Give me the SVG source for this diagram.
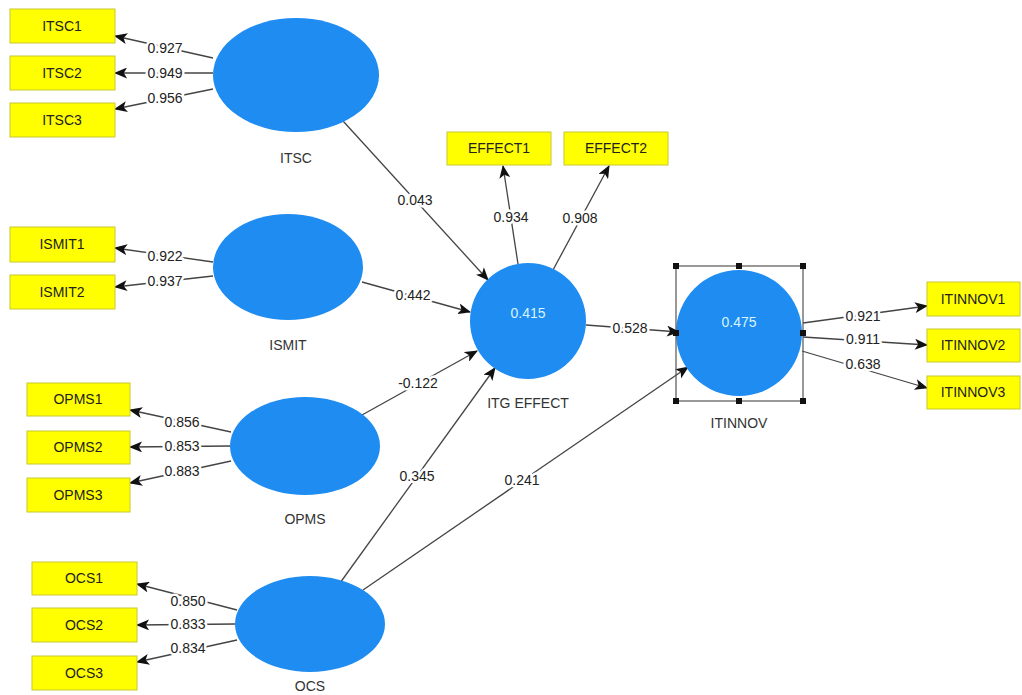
<svg xmlns="http://www.w3.org/2000/svg" width="1022" height="695" viewBox="0 0 1022 695">
<style>
.box{fill:#ffff00;stroke:#c8c832;stroke-width:1}
.bt{font-family:"Liberation Sans",Arial,sans-serif;font-size:14px;fill:#222;text-anchor:middle;dominant-baseline:central}
.lv{fill:#1e8cf0}
.nl{font-family:"Liberation Sans",Arial,sans-serif;font-size:14px;fill:#333;text-anchor:middle;dominant-baseline:central}
.in{font-family:"Liberation Sans",Arial,sans-serif;font-size:14px;fill:#d8f4ff;text-anchor:middle;dominant-baseline:central}
.c{stroke:#444;stroke-width:1.3;fill:none;marker-end:url(#ah)}
.el{font-family:"Liberation Sans",Arial,sans-serif;font-size:14px;fill:#222;text-anchor:middle;dominant-baseline:central;stroke:#fff;stroke-width:5;paint-order:stroke;stroke-linejoin:round}
.sel{fill:none;stroke:#555;stroke-width:1.2}
.h{fill:#111}
</style>
<defs>
<marker id="ah" viewBox="0 0 12 10" refX="11" refY="5" markerWidth="14" markerHeight="11" markerUnits="userSpaceOnUse" orient="auto">
<path d="M0,0 L12,5 L0,10 L3,5 Z" fill="#111"/>
</marker>
</defs>
<rect width="1022" height="695" fill="#fff"/>

<g id="connectors">
<line class="c" x1="213" y1="58" x2="115" y2="36"/>
<line class="c" x1="213" y1="73" x2="115" y2="73"/>
<line class="c" x1="213" y1="89" x2="115" y2="109"/>
<line class="c" x1="213" y1="262" x2="115" y2="248"/>
<line class="c" x1="213" y1="276" x2="115" y2="287"/>
<line class="c" x1="231" y1="432" x2="130" y2="410"/>
<line class="c" x1="230" y1="446" x2="130" y2="447"/>
<line class="c" x1="231" y1="461" x2="130" y2="483"/>
<line class="c" x1="237" y1="610" x2="137" y2="584"/>
<line class="c" x1="235" y1="624" x2="137" y2="625"/>
<line class="c" x1="237" y1="640" x2="137" y2="662"/>
<line class="c" x1="343" y1="121" x2="488" y2="280"/>
<line class="c" x1="362" y1="282" x2="470" y2="312"/>
<line class="c" x1="362" y1="415" x2="477" y2="351"/>
<line class="c" x1="340" y1="583" x2="495" y2="368"/>
<line class="c" x1="363" y1="590" x2="688" y2="367"/>
<line class="c" x1="518" y1="264" x2="503" y2="166"/>
<line class="c" x1="553" y1="270" x2="609" y2="166"/>
<line class="c" x1="586" y1="325" x2="679" y2="332"/>
<line class="c" x1="803" y1="323" x2="927" y2="306"/>
<line class="c" x1="803" y1="337" x2="927" y2="345"/>
<line class="c" x1="802" y1="351" x2="927" y2="388"/>
<text class="el" x="165" y="48">0.927</text>
<text class="el" x="165" y="73">0.949</text>
<text class="el" x="165" y="98">0.956</text>
<text class="el" x="165" y="256">0.922</text>
<text class="el" x="165" y="281">0.937</text>
<text class="el" x="182" y="422">0.856</text>
<text class="el" x="182" y="446">0.853</text>
<text class="el" x="182" y="471">0.883</text>
<text class="el" x="188" y="601">0.850</text>
<text class="el" x="188" y="624">0.833</text>
<text class="el" x="188" y="648">0.834</text>
<text class="el" x="415" y="200">0.043</text>
<text class="el" x="413" y="295">0.442</text>
<text class="el" x="418" y="383">-0.122</text>
<text class="el" x="417" y="476">0.345</text>
<text class="el" x="522" y="480">0.241</text>
<text class="el" x="511" y="217">0.934</text>
<text class="el" x="580" y="218">0.908</text>
<text class="el" x="630" y="328">0.528</text>
<text class="el" x="863" y="316">0.921</text>
<text class="el" x="863" y="339">0.911</text>
<text class="el" x="863" y="364">0.638</text>
</g>

<g id="ITSC1"><rect class="box" x="10" y="9" width="105" height="34"/><text class="bt" x="62" y="26">ITSC1</text></g>
<g id="ITSC2"><rect class="box" x="10" y="56" width="105" height="34"/><text class="bt" x="62" y="73">ITSC2</text></g>
<g id="ITSC3"><rect class="box" x="10" y="103" width="105" height="34"/><text class="bt" x="62" y="120">ITSC3</text></g>
<g id="ITSC"><ellipse class="lv" cx="296" cy="75" rx="83" ry="57"/><text class="nl" x="296" y="158">ITSC</text></g>

<g id="ISMIT1"><rect class="box" x="10" y="227" width="105" height="35"/><text class="bt" x="62" y="244">ISMIT1</text></g>
<g id="ISMIT2"><rect class="box" x="10" y="275" width="105" height="34"/><text class="bt" x="62" y="292">ISMIT2</text></g>
<g id="ISMIT"><ellipse class="lv" cx="288" cy="267" rx="75" ry="53"/><text class="nl" x="288" y="345">ISMIT</text></g>

<g id="OPMS1"><rect class="box" x="27" y="383" width="103" height="33"/><text class="bt" x="78" y="399">OPMS1</text></g>
<g id="OPMS2"><rect class="box" x="27" y="431" width="103" height="33"/><text class="bt" x="78" y="447">OPMS2</text></g>
<g id="OPMS3"><rect class="box" x="27" y="478" width="103" height="34"/><text class="bt" x="78" y="495">OPMS3</text></g>
<g id="OPMS"><ellipse class="lv" cx="305" cy="446" rx="75" ry="49"/><text class="nl" x="305" y="519">OPMS</text></g>

<g id="OCS1"><rect class="box" x="32" y="562" width="105" height="33"/><text class="bt" x="84" y="578">OCS1</text></g>
<g id="OCS2"><rect class="box" x="32" y="608" width="105" height="34"/><text class="bt" x="84" y="625">OCS2</text></g>
<g id="OCS3"><rect class="box" x="32" y="656" width="105" height="34"/><text class="bt" x="84" y="673">OCS3</text></g>
<g id="OCS"><ellipse class="lv" cx="310" cy="624" rx="75" ry="48"/><text class="nl" x="310" y="686">OCS</text></g>

<g id="EFFECT1"><rect class="box" x="447" y="132" width="104" height="33"/><text class="bt" x="499" y="148">EFFECT1</text></g>
<g id="EFFECT2"><rect class="box" x="564" y="132" width="104" height="33"/><text class="bt" x="616" y="148">EFFECT2</text></g>
<g id="ITG_EFFECT"><circle class="lv" cx="528" cy="321" r="58"/><text class="in" x="528" y="313">0.415</text><text class="nl" x="528" y="403">ITG EFFECT</text></g>

<g id="ITINNOV">
<circle class="lv" cx="739" cy="333" r="63"/>
<text class="in" x="739" y="322">0.475</text>
<rect class="sel" x="676" y="266" width="127" height="135"/>
<rect class="h" x="673" y="263" width="6" height="6"/><rect class="h" x="736" y="263" width="6" height="6"/><rect class="h" x="800" y="263" width="6" height="6"/>
<rect class="h" x="673" y="330" width="6" height="6"/><rect class="h" x="800" y="330" width="6" height="6"/>
<rect class="h" x="673" y="398" width="6" height="6"/><rect class="h" x="736" y="398" width="6" height="6"/><rect class="h" x="800" y="398" width="6" height="6"/>
<text class="nl" x="739" y="423">ITINNOV</text>
</g>
<g id="ITINNOV1"><rect class="box" x="927" y="282" width="93" height="34"/><text class="bt" x="973" y="299">ITINNOV1</text></g>
<g id="ITINNOV2"><rect class="box" x="927" y="329" width="93" height="33"/><text class="bt" x="973" y="345">ITINNOV2</text></g>
<g id="ITINNOV3"><rect class="box" x="927" y="376" width="93" height="33"/><text class="bt" x="973" y="392">ITINNOV3</text></g>
</svg>
